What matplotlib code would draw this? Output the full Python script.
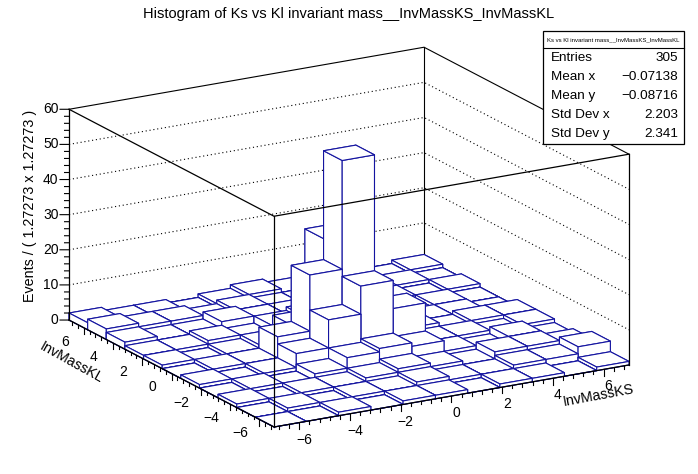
import numpy as np
import matplotlib
matplotlib.use('Agg')
import matplotlib.pyplot as plt
from matplotlib.patches import Rectangle
from matplotlib.lines import Line2D

# binning (11 x 11 bins over [-7, 7])
ks_edges = np.linspace(-7, 7, 12)
kl_edges = np.linspace(-7, 7, 12)

# counts[j][i] : j = InvMassKL bin (low -> high), i = InvMassKS bin (low -> high)
counts = [
    [0, 0, 1, 0, 1, 1, 0, 1, 1, 0, 1],
    [0, 1, 0, 1, 1, 2, 1, 1, 2, 2, 4],
    [1, 0, 1, 1, 2, 3, 2, 1, 3, 3, 2],
    [0, 1, 0, 2, 5, 6, 5, 2, 1, 3, 1],
    [1, 0, 1, 5, 13, 21, 13, 2, 2, 1, 2],
    [0, 1, 1, 7, 23, 54, 7, 3, 1, 2, 2],
    [1, 0, 1, 2, 6, 29, 3, 2, 1, 1, 0],
    [1, 1, 2, 1, 3, 4, 2, 1, 0, 1, 0],
    [2, 1, 1, 3, 2, 2, 1, 1, 1, 0, 1],
    [3, 2, 2, 1, 2, 1, 1, 1, 0, 1, 0],
    [2, 1, 1, 0, 1, 2, 1, 0, 1, 0, 1],
]

z_max = 60
z_major = np.arange(0, 61, 10)
z_minor = np.arange(0, 61, 2)
xy_major = np.arange(-6, 7, 2)
xy_minor = np.arange(-6.8, 7, 0.4)

stats_title = "Ks vs Kl invariant mass__InvMassKS_InvMassKL"
stats_rows = [("Entries", "305"), ("Mean x", "\u22120.07138"), ("Mean y", "\u22120.08716"),
              ("Std Dev x", "2.203"), ("Std Dev y", "2.341")]

BLUE = '#1414a0'
W, H = 698, 474
plt.rcParams['font.family'] = ['Liberation Sans', 'DejaVu Sans']

fig = plt.figure(figsize=(W / 100, H / 100), dpi=100)
ax = fig.add_axes([0.1, 0.1, 0.8, 0.8], projection='3d', proj_type='ortho',
                  computed_zorder=False)
ax.set_box_aspect((410, 409, 221))
elev, azim = 17.58, 239.94
ax.view_init(elev=elev, azim=azim)
ax.set_axis_off()

# back walls, dotted grid
for z in z_major[1:-1]:
    ax.plot([-7, 7, 7], [7, 7, -7], [z, z, z], color='k', lw=0.8, ls=(0, (1, 2.5)), zorder=1)
ax.plot([-7, 7, 7], [7, 7, -7], [z_max] * 3, color='k', lw=0.8, zorder=1)
ax.plot([-7, 7, 7], [7, 7, -7], [0] * 3, color='k', lw=0.8, zorder=1)
ax.plot([7, 7], [7, 7], [0, z_max], color='k', lw=0.8, zorder=1)

# lego bars, far to near
ca, sa = np.cos(np.radians(azim)), np.sin(np.radians(azim))
dx = ks_edges[1] - ks_edges[0]
dy = kl_edges[1] - kl_edges[0]
cells = [(i, j) for j in range(11) for i in range(11)]
cells.sort(key=lambda t: ca * (ks_edges[t[0]] + dx / 2) + sa * (kl_edges[t[1]] + dy / 2))
for k, (i, j) in enumerate(cells):
    ax.bar3d(ks_edges[i], kl_edges[j], 0, dx, dy, counts[j][i], color='white',
             edgecolor=BLUE, linewidth=0.8, shade=False, zorder=10 + k)

# front frame
fz = 500
ax.plot([-7, -7], [-7, -7], [0, z_max], color='k', lw=0.9, zorder=fz)
ax.plot([-7, -7, 7], [7, -7, -7], [z_max] * 3, color='k', lw=0.9, zorder=fz)
ax.plot([-7, -7, 7], [7, -7, -7], [0] * 3, color='k', lw=0.9, zorder=fz)
ax.plot([-7, -7], [7, 7], [0, z_max], color='k', lw=0.9, zorder=fz)
ax.plot([7, 7], [-7, -7], [0, z_max], color='k', lw=0.9, zorder=fz)

# z axis ticks (horizontal, to the left)
hx, hy = -0.266 / 9, 0.154 / 9
for z in z_minor:
    L = 9 if z in z_major else 4.5
    ax.plot([-7, -7 + hx * L], [7, 7 + hy * L], [z, z], color='k', lw=0.8, zorder=fz)

# floor axis ticks (pointing down)
for v in xy_minor:
    L = 1.8 if np.isclose(v, np.round(v)) and int(round(v)) % 2 == 0 else 0.9
    ax.plot([-7, -7], [v, v], [0, -L], color='k', lw=0.8, zorder=fz)
    ax.plot([v, v], [-7, -7], [0, -L], color='k', lw=0.8, zorder=fz)

ax.set_xlim(-7, 7)
ax.set_ylim(-7, 7)
ax.set_zlim(0, z_max)


def to_px(x, y, z):
    M = ax.get_proj()
    v = M @ np.array([x, y, z, 1.0])
    return np.array(ax.transData.transform((v[0] / v[3], v[1] / v[3])))


# place the 3D box where the reference has it
tgt_a = np.array([274.0, H - 427.0])
tgt_b = np.array([629.0, H - 365.0])
for _ in range(3):
    fig.canvas.draw()
    a = to_px(-7, -7, 0)
    b = to_px(7, -7, 0)
    s = np.linalg.norm(tgt_b - tgt_a) / np.linalg.norm(b - a)
    bb = ax.get_position()
    cx = (bb.x0 + bb.x1) / 2 * W
    cy = (bb.y0 + bb.y1) / 2 * H
    side = bb.width * W * s
    ncx = tgt_a[0] - s * (a[0] - cx)
    ncy = tgt_a[1] - s * (a[1] - cy)
    ax.set_position([(ncx - side / 2) / W, (ncy - side / 2) / H, side / W, side / H])
fig.canvas.draw()


def label_at(x, y, z, s, **kw):
    p = to_px(x, y, z)
    fig.text(p[0] / W, p[1] / H, s, fontsize=10, zorder=fz, **kw)


# tick labels
for z in z_major:
    label_at(-7 + hx * 10.5, 7 + hy * 10.5, z, f"{z}", ha='right', va='center')
for v in xy_major:
    lab = f"{v}".replace('-', '\u2212')
    label_at(-7.75, v, -3.0, lab, ha='center', va='center')
    label_at(v, -7.34, -4.1, lab, ha='center', va='center')

# titles
fig.text(349 / W, 1 - 14 / H, "Histogram of Ks vs Kl invariant mass__InvMassKS_InvMassKL",
         ha='center', va='center', fontsize=10.5)
fig.text(30 / W, 1 - 110 / H, "Events / ( 1.27273 x 1.27273 )", rotation=90,
         ha='center', va='top', fontsize=10.3)
fig.text(71 / W, 1 - 363 / H, "InvMassKL", rotation=-29, rotation_mode='anchor',
         ha='center', va='center', fontsize=10.3)
fig.text(598 / W, 1 - 395 / H, "InvMassKS", rotation=10.5, rotation_mode='anchor',
         ha='center', va='center', fontsize=10.3)

# stats box
x0, x1, y0, y1, ysep = 543, 684, 31, 144, 48
fig.add_artist(Rectangle((x0 / W, 1 - y1 / H), (x1 - x0) / W, (y1 - y0) / H,
                         transform=fig.transFigure, facecolor='white', edgecolor='k',
                         lw=0.9, zorder=900))
fig.add_artist(Line2D([x0 / W, x1 / W], [1 - ysep / H] * 2, transform=fig.transFigure,
                      color='k', lw=0.8, zorder=901))
fig.text((x0 + x1) / 2 / W, 1 - 39.5 / H, stats_title, ha='center', va='center',
         fontsize=4.3, zorder=902)
row_h = (y1 - ysep) / len(stats_rows)
for r, (name, val) in enumerate(stats_rows):
    yc = ysep + row_h * (r + 0.5)
    fig.text(551 / W, 1 - yc / H, name, ha='left', va='center', fontsize=9.7, zorder=902)
    fig.text(678 / W, 1 - yc / H, val, ha='right', va='center', fontsize=9.7, zorder=902)

fig.savefig('out.png', dpi=100)
